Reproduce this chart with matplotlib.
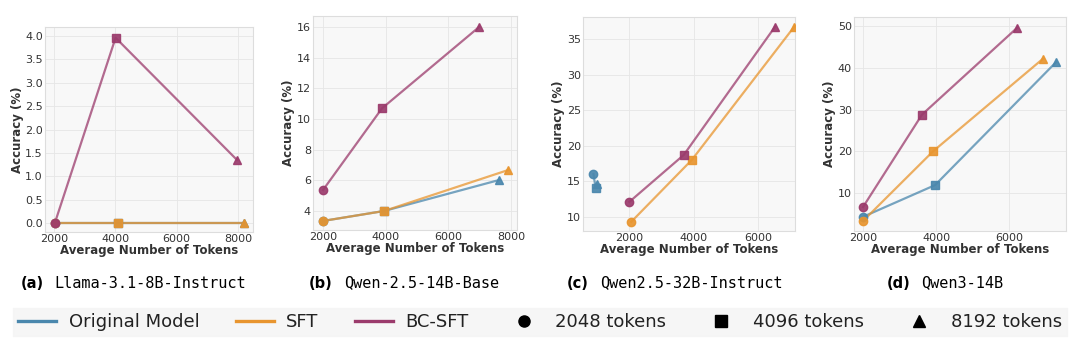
import matplotlib.pyplot as plt
from matplotlib.lines import Line2D

# Data: (tokens, accuracy) per model, per method; order = 2048 / 4096 / 8192 budgets
panels = ["Llama-3.1-8B-Instruct", "Qwen-2.5-14B-Base", "Qwen2.5-32B-Instruct", "Qwen3-14B"]
letters = ["(a)", "(b)", "(c)", "(d)"]

orig_x = [[2030, 4076, 8195], [2000, 3947, 7617], [885, 950, 980], [2000, 3973, 7290]]
orig_y = [[0.0, 0.0, 0.0], [3.35, 4.0, 6.02], [16.0, 14.1, 14.6], [4.3, 11.9, 41.4]]
sft_x = [[2030, 4076, 8195], [2000, 3947, 7905], [2060, 3940, 7115], [2000, 3918, 6930]]
sft_y = [[0.0, 0.0, 0.0], [3.35, 4.0, 6.67], [9.3, 18.0, 36.7], [3.3, 20.0, 42.2]]
bc_x = [[2030, 4011, 7968], [2000, 3883, 6979], [2000, 3690, 6520], [2000, 3616, 6220]]
bc_y = [[0.0, 3.96, 1.35], [5.37, 10.7, 16.0], [12.1, 18.7, 36.7], [6.65, 28.8, 49.6]]

methods = ["Original Model", "SFT", "BC-SFT"]
colors = ["#4a87ad", "#e8952f", "#9b3b6c"]
markers = ["o", "s", "^"]
budgets = ["2048 tokens", "4096 tokens", "8192 tokens"]

xlims = [(1710, 8490), (1680, 8190), (560, 7145), (1753, 7560)]
ylims = [(-0.19, 4.19), (2.76, 16.72), (8.0, 38.1), (0.9, 52.2)]
xticks = [[2000, 4000, 6000, 8000], [2000, 4000, 6000, 8000], [2000, 4000, 6000], [2000, 4000, 6000]]

# axes boxes in pixels (left, right, top, bottom)
boxes = [(45, 253, 27, 232), (313, 517, 16, 230), (583, 795, 17, 231), (854, 1066, 17, 231)]
# caption split point (letter right edge, name left edge)
caps = [(44, 54), (333, 344), (589, 600), (910, 921)]

W, H = 1080, 355
fig = plt.figure(figsize=(W / 100, H / 100), dpi=100)

for i in range(4):
    l, r, t, b = boxes[i]
    ax = fig.add_axes([l / W, 1 - b / H, (r - l) / W, (b - t) / H])
    ax.set_facecolor("#f8f8f8")
    ax.grid(True, color="#e6e6e6", linewidth=0.6)
    ax.set_axisbelow(True)
    for s in ax.spines.values():
        s.set_color("#dddddd")
        s.set_linewidth(0.8)
    series = [(orig_x[i], orig_y[i]), (sft_x[i], sft_y[i]), (bc_x[i], bc_y[i])]
    for k, (xs, ys) in enumerate(series):
        ax.plot(xs, ys, color=colors[k], linewidth=1.6, alpha=0.75, zorder=2)
        for j in range(3):
            ax.plot(xs[j], ys[j], marker=markers[j], color=colors[k], markersize=6,
                    alpha=0.92, linestyle="none", zorder=3)
    ax.set_xlim(*xlims[i])
    ax.set_ylim(*ylims[i])
    ax.set_xticks(xticks[i])
    ax.tick_params(labelsize=8, colors="#333333", length=0, pad=1.5)
    ax.set_xlabel("Average Number of Tokens", fontsize=8.5, fontweight="bold", color="#333333", labelpad=0)
    ax.set_ylabel("Accuracy (%)", fontsize=8.5, fontweight="bold", color="#333333", labelpad=1)
    fig.text(caps[i][0] / W, 1 - 283 / H, letters[i], fontsize=10.5, fontweight="bold", ha="right", va="center")
    fig.text(caps[i][1] / W, 1 - 283 / H, panels[i], fontsize=11, family="DejaVu Sans Mono",
             ha="left", va="center")

handles = [Line2D([0], [0], color=c, linewidth=2.4) for c in colors]
handles += [Line2D([0], [0], marker=m, color="black", linestyle="none", markersize=8) for m in markers]
labels = methods + budgets
leg = fig.legend(handles, labels, loc="center", bbox_to_anchor=(0.5, 1 - 322 / H), ncol=6,
                 fontsize=13, frameon=True, fancybox=False, columnspacing=2.0, handlelength=2.1,
                 handletextpad=0.7, borderpad=0.3, labelcolor="#222222")
leg.get_frame().set_facecolor("#f4f4f4")
leg.get_frame().set_edgecolor("#f4f4f4")

fig.savefig("out.png", dpi=100)
